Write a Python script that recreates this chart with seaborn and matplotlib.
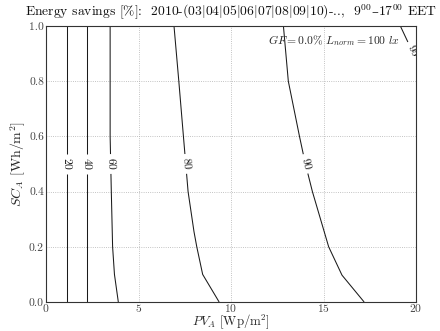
import numpy as np
import pandas as pd
import seaborn as sns
import matplotlib
matplotlib.use("Agg")
import matplotlib.pyplot as plt
from matplotlib.offsetbox import TextArea, HPacker, AnchoredOffsetbox

# ---- data ----
pv_area = [0, 1, 2, 3, 4, 6, 8, 10, 12, 14, 16, 18, 20]          # PV_A [Wp/m2]
sc_area = [0.0, 0.1, 0.2, 0.4, 0.6, 0.8, 1.0]                       # SC_A [Wh/m2]
savings_sc00 = [0, 17.9, 35.8, 56.5, 60.35, 72.0, 77.5, 81.18, 84.2, 87.2, 89.3, 90.47, 91.4]
savings_sc01 = [0, 17.9, 35.8, 56.5, 61.5, 73.9, 78.9, 83.6, 85.9, 88.0, 90.02, 91.2, 92.1]
savings_sc02 = [0, 17.9, 35.8, 56.5, 62.33, 74.8, 79.7, 83.7, 86.5, 88.9, 90.62, 91.8, 92.7]
savings_sc04 = [0, 17.9, 35.8, 56.5, 63.1, 75.8, 80.8, 84.3, 87.4, 89.6, 91.6, 92.5, 93.3]
savings_sc06 = [0, 17.9, 35.8, 56.5, 64.0, 76.5, 81.4, 84.8, 88.0, 90.35, 92.0, 93.0, 93.8]
savings_sc08 = [0, 17.9, 35.8, 56.5, 64.0, 77.5, 81.74, 85.2, 88.6, 91.15, 92.6, 93.6, 94.71]
savings_sc10 = [0, 17.9, 35.8, 56.5, 64.0, 78.3, 82.0, 85.5, 89.0, 91.4, 93.0, 94.4, 95.44]
levels = [20, 40, 60, 80, 90, 95]
label_pv = [1.1, 2.2, 3.5, 7.5, 14.0, 19.8]
label_sc = [0.5, 0.5, 0.5, 0.5, 0.5, 0.91]

title_parts = [r"Energy savings [%]:  2010-(03$|$04$|$05$|$06$|$07$|$08$|$09$|$10)-..,  9$^{00}$",
               "–",
               r"17$^{00}$ EET"]
note = r"$GF = 0.0\%\ L_{norm} = 100\ lx$"
xlabel = r"$PV_A$ [Wp/m$^2$]"
ylabel = r"$SC_A$ [Wh/m$^2$]"

table = pd.DataFrame(
    [savings_sc00, savings_sc01, savings_sc02, savings_sc04,
     savings_sc06, savings_sc08, savings_sc10],
    index=sc_area, columns=pv_area)

# ---- style ----
sns.set_theme(style="whitegrid")
plt.rcParams["font.family"] = ["cmr10", "DejaVu Serif"]
plt.rcParams["mathtext.fontset"] = "cm"
plt.rcParams["axes.formatter.use_mathtext"] = True
plt.rcParams["axes.unicode_minus"] = False

fig = plt.figure(figsize=(4.4, 3.31), dpi=100)
ax = fig.add_axes([46/440, 1-302/331, 370/440, 276/331])
ax.set_facecolor("white")

X, Y = np.meshgrid(table.columns.values.astype(float), table.index.values)
cs = ax.contour(X, Y, table.values, levels=levels, colors="#1a1a1a", linewidths=0.75)
ax.clabel(cs, fmt="%d", manual=list(zip(label_pv, label_sc)), inline=True,
          fontsize=8.5, inline_spacing=4)

ax.set_xlim(0, 20)
ax.set_ylim(0, 1.0)
ax.set_xticks([0, 5, 10, 15, 20])
ax.set_yticks([0.0, 0.2, 0.4, 0.6, 0.8, 1.0])
ax.set_yticklabels(["0.0", "0.2", "0.4", "0.6", "0.8", "1.0"])
ax.grid(True, color="#b0b0b0", linestyle=":", linewidth=0.6)
ax.tick_params(length=0, labelsize=8.3, labelcolor="#444444")
ax.tick_params(axis="x", pad=0.3)
ax.tick_params(axis="y", pad=1.5)
for s in ax.spines.values():
    s.set_color("#333333")
    s.set_linewidth(0.8)
    s.set_visible(True)

ax.set_xlabel(xlabel, fontsize=9.2, labelpad=-1.3)
ax.set_ylabel(ylabel, fontsize=10, labelpad=1)

# title made of pieces so every glyph comes from a font that has it
props_cm = dict(fontsize=9.8, family=["cmr10"], color="#111111")
props_dash = dict(fontsize=9.8, family=["DejaVu Serif"], color="#111111")
pieces = [TextArea(title_parts[0], textprops=props_cm),
          TextArea(title_parts[1], textprops=props_dash),
          TextArea(title_parts[2], textprops=props_cm)]
box = HPacker(children=pieces, align="baseline", pad=0, sep=0)
title_box = AnchoredOffsetbox(loc="lower center", child=box, pad=0, frameon=False,
                              bbox_to_anchor=(0.5, 1.0), bbox_transform=ax.transAxes,
                              borderpad=0.25)
ax.add_artist(title_box)

ax.text(0.957, 0.975, note, transform=ax.transAxes, ha="right", va="top",
        fontsize=8.4)

fig.savefig("out.png", dpi=100)
